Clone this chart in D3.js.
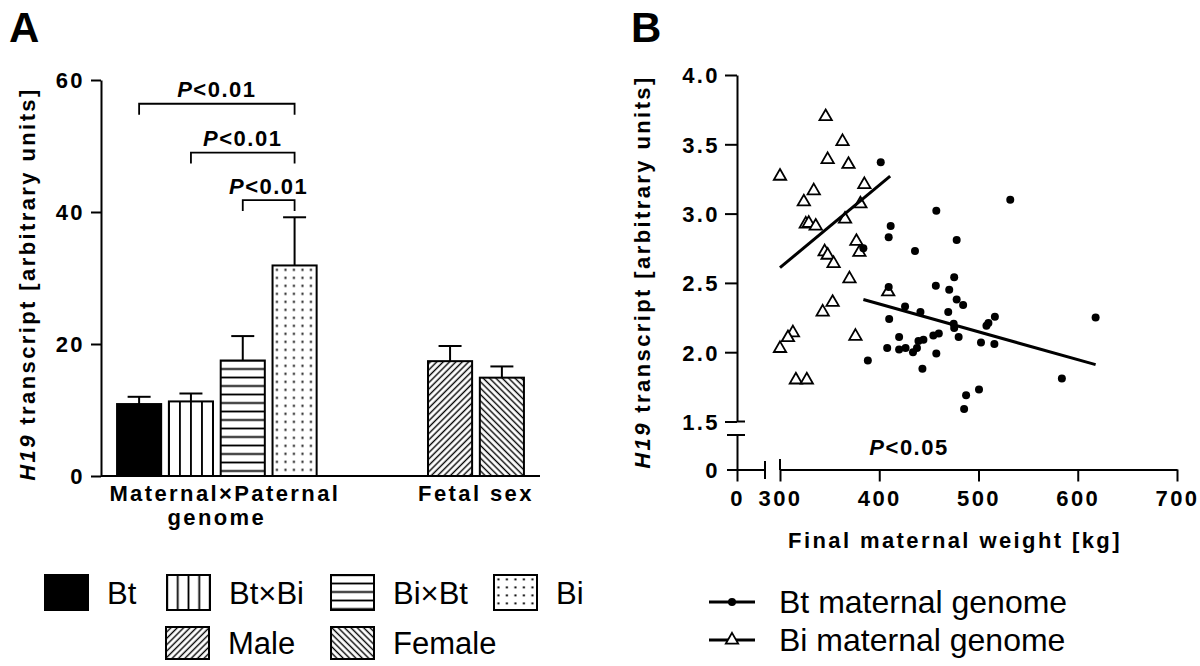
<!DOCTYPE html>
<html>
<head>
<meta charset="utf-8">
<script src="https://cdnjs.cloudflare.com/ajax/libs/d3/7.8.5/d3.min.js"></script>
<style>
    body { margin: 0; background: #fff; }
    svg { font-family: "Liberation Sans", Arial, sans-serif; }
    .lbl { font-weight: bold; font-size: 22px; letter-spacing: 2.4px; fill: #000; }
    .ptext { font-weight: bold; font-size: 22px; letter-spacing: 1.5px; fill: #000; }
    .legend-text { font-size: 31px; fill: #000; }
    .panel { font-weight: bold; font-size: 42px; fill: #000; }
</style>
</head>
<body>
<svg id="chart" width="1200" height="666"></svg>
<script>
// Panel A: H19 transcript by genotype / fetal sex
const barCategories = ["Bt", "Bt×Bi", "Bi×Bt", "Bi", "Male", "Female"];
const barMeans = [10.9, 11.3, 17.5, 31.9, 17.4, 14.9];
const barSem = [1.1, 1.2, 3.7, 7.3, 2.3, 1.7];
const barPatterns = ["solid", "vertical", "horizontal", "dots", "diagUp", "diagDown"];
const groupLabels = [["Maternal×Paternal", "genome"], ["Fetal sex"]];
const groupMembers = [["Bt", "Bt×Bi", "Bi×Bt", "Bi"], ["Male", "Female"]];
const barTicks = [0, 20, 40, 60];
const comparisons = [["Bt", "Bi"], ["Bt×Bi", "Bi"], ["Bi×Bt", "Bi"]];
const comparisonLevels = [56.4, 49.0, 41.8];
const comparisonText = "<0.01";

// Panel B: H19 vs final maternal weight
const btWeight = [401.5, 411.5, 409.5, 436, 384, 532, 457.5, 478, 475.5, 409.5, 457, 470.5, 478, 484.5, 426,
    441.5, 410, 469.5, 516.5, 510, 508, 618, 475, 475.5, 420, 460, 454.5, 480, 444.5, 439.5, 408, 420,
    426.5, 434, 438, 457.5, 502.5, 516, 388.5, 443.5, 584, 500.5, 487.5, 485.5];
const btH19 = [3.37, 2.91, 2.83, 2.73, 2.75, 3.10, 3.02, 2.81, 2.54, 2.47, 2.48, 2.45, 2.38, 2.34, 2.33,
    2.29, 2.24, 2.29, 2.255, 2.21, 2.19, 2.25, 2.205, 2.175, 2.11, 2.135, 2.12, 2.11, 2.09, 2.08, 2.03, 2.02,
    2.03, 2.00, 2.03, 1.99, 2.07, 2.06, 1.94, 1.88, 1.81, 1.73, 1.69, 1.59];
const biWeight = [346, 363, 348, 369, 300, 385, 334, 324, 381, 326, 329, 336, 365.5, 377, 380, 345, 348,
    354, 370, 409, 353, 343, 313, 308, 300, 376, 316, 327];
const biH19 = [3.70, 3.52, 3.39, 3.355, 3.27, 3.21, 3.165, 3.085, 3.07, 2.925, 2.93, 2.91, 2.96, 2.80, 2.72,
    2.725, 2.70, 2.64, 2.53, 2.435, 2.36, 2.29, 2.14, 2.105, 2.027, 2.115, 1.80, 1.80];
const btFitWeight = [384, 618];
const btFitH19 = [2.38, 1.91];
const biFitWeight = [300, 411];
const biFitH19 = [2.61, 3.27];
const weightTicks = [300, 400, 500, 600, 700];
const h19Ticks = [1.5, 2.0, 2.5, 3.0, 3.5, 4.0];
const seriesLabels = ["Bt maternal genome", "Bi maternal genome"];
const scatterP = "<0.05";

const svg = d3.select("#chart");
const defs = svg.append("defs");

// hatch patterns anchored on a box so stripes line up with its edges
function addPattern(id, type, ox, oy, w) {
    let p = defs.append("pattern")
        .attr("id", id)
        .attr("patternUnits", "userSpaceOnUse");
    if (type === "vertical") {
        let s = w / 4;
        p.attr("x", ox - s / 2).attr("y", 0).attr("width", s).attr("height", 10);
        p.append("line").attr("x1", s / 2).attr("x2", s / 2).attr("y1", 0).attr("y2", 10)
            .attr("stroke", "#000").attr("stroke-width", 1.8);
    } else if (type === "horizontal") {
        let s = 8.5;
        p.attr("x", 0).attr("y", oy - s / 2).attr("width", 10).attr("height", s);
        p.append("line").attr("x1", 0).attr("x2", 10).attr("y1", s / 2).attr("y2", s / 2)
            .attr("stroke", "#000").attr("stroke-width", 1.8);
    } else if (type === "dots") {
        p.attr("x", ox).attr("y", oy).attr("width", 8.5).attr("height", 8);
        p.append("rect").attr("x", 3.4).attr("y", 3.4).attr("width", 2).attr("height", 2)
            .attr("fill", "#000");
    } else {
        p.attr("width", 4.5).attr("height", 10)
            .attr("patternTransform", type === "diagUp" ? "rotate(45)" : "rotate(-45)");
        p.append("line").attr("x1", 2.25).attr("x2", 2.25).attr("y1", 0).attr("y2", 10)
            .attr("stroke", "#000").attr("stroke-width", 1.4);
    }
    return "url(#" + id + ")";
}

class BarChart {
    constructor() {
        this.initVis();
    }

    initVis() {
        let vis = this;
        vis.g = svg.append("g");

        vis.y = d3.scaleLinear().domain([0, 60]).range([476, 80]);

        // two empty slots separate the genome group from the fetal sex group
        let slots = barCategories.slice(0, 4).concat(["_gap1", "_gap2"], barCategories.slice(4));
        vis.x = d3.scaleBand()
            .domain(slots)
            .range([101, 540])
            .paddingInner(0.149)
            .paddingOuter(0.31);

        vis.g.append("text").attr("class", "panel").attr("x", 9).attr("y", 42).text("A");

        // y axis
        let yAxis = d3.axisLeft(vis.y).tickValues(barTicks).tickSize(10).tickSizeOuter(0).tickPadding(6);
        vis.g.append("g")
            .attr("transform", "translate(101,0)")
            .call(yAxis)
            .call(g => g.selectAll("line, path").attr("stroke", "#000").attr("stroke-width", 2))
            .call(g => g.selectAll("text").attr("class", "lbl").attr("dy", "0.36em"))
            .attr("font-size", null).attr("font-family", null);

        let ylab = vis.g.append("text")
            .attr("class", "lbl")
            .attr("text-anchor", "middle")
            .attr("transform", "translate(35,284) rotate(-90)");
        ylab.append("tspan").attr("font-style", "italic").text("H19");
        ylab.append("tspan").text(" transcript [arbitrary units]");

        vis.updateVis();
    }

    updateVis() {
        let vis = this;
        let bw = vis.x.bandwidth();

        let data = barCategories.map((c, i) => ({ cat: c, mean: barMeans[i], sem: barSem[i], pat: barPatterns[i] }));

        vis.g.selectAll(".bar")
            .data(data)
            .enter()
            .append("rect")
            .attr("class", "bar")
            .attr("x", d => vis.x(d.cat))
            .attr("y", d => vis.y(d.mean))
            .attr("width", bw)
            .attr("height", d => vis.y(0) - vis.y(d.mean))
            .attr("fill", (d, i) => d.pat === "solid" ? "#000"
                : addPattern("bar" + i, d.pat, vis.x(d.cat), vis.y(d.mean), bw))
            .attr("stroke", "#000")
            .attr("stroke-width", 2);

        // error bars (upper only)
        let err = vis.g.selectAll(".err")
            .data(data)
            .enter()
            .append("g")
            .attr("class", "err")
            .attr("stroke", "#000")
            .attr("stroke-width", 2);
        err.append("line")
            .attr("x1", d => vis.x(d.cat) + bw / 2)
            .attr("x2", d => vis.x(d.cat) + bw / 2)
            .attr("y1", d => vis.y(d.mean))
            .attr("y2", d => vis.y(d.mean + d.sem));
        err.append("line")
            .attr("x1", d => vis.x(d.cat) + bw / 2 - 11.5)
            .attr("x2", d => vis.x(d.cat) + bw / 2 + 11.5)
            .attr("y1", d => vis.y(d.mean + d.sem))
            .attr("y2", d => vis.y(d.mean + d.sem));

        // x axis line (no ticks)
        vis.g.append("line")
            .attr("x1", vis.x.range()[0]).attr("x2", vis.x.range()[1])
            .attr("y1", vis.y(0)).attr("y2", vis.y(0))
            .attr("stroke", "#000").attr("stroke-width", 2);

        // group labels
        groupLabels.forEach((lines, i) => {
            let m = groupMembers[i];
            let cx = (vis.x(m[0]) + vis.x(m[m.length - 1]) + bw) / 2;
            lines.forEach((t, j) => {
                vis.g.append("text")
                    .attr("class", "lbl")
                    .attr("text-anchor", "middle")
                    .attr("x", cx + (i === 0 ? 8 - j * 8 : 0))
                    .attr("y", 501 + j * 24)
                    .text(t);
            });
        });

        // significance brackets
        comparisons.forEach((pair, i) => {
            let x1 = vis.x(pair[0]) + bw / 2;
            let x2 = vis.x(pair[1]) + bw / 2;
            let yb = vis.y(comparisonLevels[i]);
            vis.g.append("path")
                .attr("d", `M${x1},${yb + 11}V${yb}H${x2}V${yb + 11}`)
                .attr("fill", "none").attr("stroke", "#000").attr("stroke-width", 1.8);
            let t = vis.g.append("text")
                .attr("class", "ptext")
                .attr("text-anchor", "middle")
                .attr("x", (x1 + x2) / 2)
                .attr("y", yb - 6.5);
            t.append("tspan").attr("font-style", "italic").text("P");
            t.append("tspan").text(comparisonText);
        });

        // legend
        let pos = [[45, 575, 35], [167, 575, 35], [331, 575, 35], [494, 575, 35], [166, 627, 32], [331, 627, 32]];
        barCategories.forEach((c, i) => {
            let [lx, ly, lh] = pos[i];
            let lw = 43;
            vis.g.append("rect")
                .attr("x", lx).attr("y", ly).attr("width", lw).attr("height", lh)
                .attr("fill", barPatterns[i] === "solid" ? "#000" : addPattern("leg" + i, barPatterns[i], lx, ly, lw))
                .attr("stroke", "#000").attr("stroke-width", 2);
            vis.g.append("text")
                .attr("class", "legend-text")
                .attr("x", lx + 62)
                .attr("y", ly + (lh === 35 ? 29 : 27))
                .text(c);
        });
    }
}

class ScatterChart {
    constructor() {
        this.initVis();
    }

    initVis() {
        let vis = this;
        vis.g = svg.append("g");

        vis.x = d3.scaleLinear().domain([300, 700]).range([780, 1177]);
        vis.y = d3.scaleLinear().domain([1.5, 4.0]).range([421.5, 75]);
        // short segments holding the zero of each broken axis
        vis.x0 = d3.scaleLinear().domain([0, 30]).range([737, 765]);
        vis.y0 = d3.scaleLinear().domain([0, 0.25]).range([469.5, 435]);

        vis.g.append("text").attr("class", "panel").attr("x", 631).attr("y", 42).text("B");

        let style = g => {
            g.selectAll("line, path").attr("stroke", "#000").attr("stroke-width", 2);
            g.selectAll("text").attr("class", "lbl");
            g.attr("font-size", null).attr("font-family", null);
        };

        vis.g.append("g").attr("transform", "translate(737,0)")
            .call(d3.axisLeft(vis.y).tickValues(h19Ticks).tickFormat(d3.format(".1f"))
                .tickSize(12).tickSizeOuter(0).tickPadding(5))
            .call(style)
            .call(g => g.selectAll("text").attr("dy", "0.36em"));
        vis.g.append("g").attr("transform", "translate(737,0)")
            .call(d3.axisLeft(vis.y0).tickValues([0]).tickFormat(d3.format("d"))
                .tickSize(10).tickSizeOuter(0).tickPadding(7))
            .call(style)
            .call(g => g.selectAll("text").attr("dy", "0.36em"));

        vis.g.append("g").attr("transform", "translate(0,469.5)")
            .call(d3.axisBottom(vis.x).tickValues(weightTicks).tickSize(12).tickSizeOuter(0).tickPadding(9))
            .call(style)
            .call(g => g.selectAll("text").attr("dy", "0.71em"));
        vis.g.append("g").attr("transform", "translate(0,469.5)")
            .call(d3.axisBottom(vis.x0).tickValues([0]).tickFormat(d3.format("d"))
                .tickSize(12).tickSizeOuter(0).tickPadding(9))
            .call(style)
            .call(g => g.selectAll("text").attr("dy", "0.71em"));

        // break caps
        let caps = [
            [737, vis.y(1.5), 745, vis.y(1.5)],
            [727, vis.y0(0.25), 745, vis.y0(0.25)],
            [vis.x(300), 459, vis.x(300), 470],
            [vis.x0(30), 461, vis.x0(30), 479]
        ];
        vis.g.selectAll(".cap").data(caps).enter().append("line")
            .attr("x1", d => d[0]).attr("y1", d => d[1]).attr("x2", d => d[2]).attr("y2", d => d[3])
            .attr("stroke", "#000").attr("stroke-width", 2);

        let ylab = vis.g.append("text")
            .attr("class", "lbl")
            .attr("text-anchor", "middle")
            .attr("transform", "translate(650,272) rotate(-90)");
        ylab.append("tspan").attr("font-style", "italic").text("H19");
        ylab.append("tspan").text(" transcript [arbitrary units]");

        vis.g.append("text")
            .attr("class", "lbl")
            .attr("text-anchor", "middle")
            .attr("x", 955).attr("y", 548)
            .text("Final maternal weight [kg]");

        let pt = vis.g.append("text").attr("class", "ptext")
            .attr("text-anchor", "middle")
            .attr("x", vis.x(430)).attr("y", 455);
        pt.append("tspan").attr("font-style", "italic").text("P");
        pt.append("tspan").text(scatterP);

        vis.updateVis();
    }

    updateVis() {
        let vis = this;
        let tri = d3.symbol(d3.symbolTriangle, 66);
        let line = d3.line().x(d => vis.x(d[0])).y(d => vis.y(d[1]));

        vis.g.selectAll(".bi")
            .data(biWeight.map((w, i) => [w, biH19[i]]))
            .enter()
            .append("path")
            .attr("class", "bi")
            .attr("transform", d => `translate(${vis.x(d[0])},${vis.y(d[1])})`)
            .attr("d", tri)
            .attr("fill", "#fff").attr("stroke", "#000").attr("stroke-width", 1.8);

        vis.g.selectAll(".bt")
            .data(btWeight.map((w, i) => [w, btH19[i]]))
            .enter()
            .append("circle")
            .attr("class", "bt")
            .attr("cx", d => vis.x(d[0]))
            .attr("cy", d => vis.y(d[1]))
            .attr("r", 4)
            .attr("fill", "#000");

        vis.g.append("path")
            .datum(biFitWeight.map((w, i) => [w, biFitH19[i]]))
            .attr("d", line).attr("stroke", "#000").attr("stroke-width", 3).attr("fill", "none");
        vis.g.append("path")
            .datum(btFitWeight.map((w, i) => [w, btFitH19[i]]))
            .attr("d", line).attr("stroke", "#000").attr("stroke-width", 3).attr("fill", "none");

        // legend
        seriesLabels.forEach((s, i) => {
            let ly = i === 0 ? 602 : 640;
            vis.g.append("line").attr("x1", 709).attr("x2", 755).attr("y1", ly).attr("y2", ly)
                .attr("stroke", "#000").attr("stroke-width", 3);
            if (i === 0) {
                vis.g.append("circle").attr("cx", 732).attr("cy", ly).attr("r", 4).attr("fill", "#000");
            } else {
                vis.g.append("path").attr("transform", `translate(732,${ly})`).attr("d", tri)
                    .attr("fill", "#fff").attr("stroke", "#000").attr("stroke-width", 1.8);
            }
            vis.g.append("text").attr("class", "legend-text")
                .style("font-size", "32px")
                .attr("x", 779).attr("y", ly + 11)
                .text(s);
        });
    }
}

new BarChart();
new ScatterChart();
</script>
</body>
</html>
